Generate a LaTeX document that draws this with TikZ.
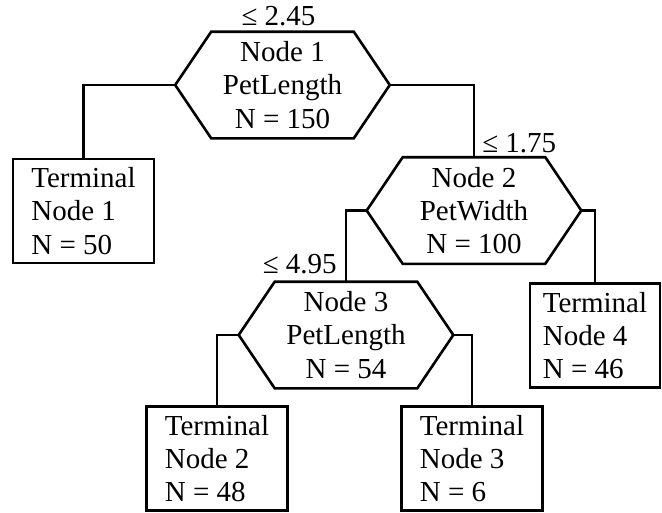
\documentclass[tikz,border=0pt]{standalone}
\usepackage{fontspec}
\setmainfont{Liberation Serif}
\usetikzlibrary{arrows.meta, positioning}

\begin{document}
\begin{tikzpicture}[x=1pt, y=-1pt, line width=2.6pt,
  every node/.style={font=\fontsize{29}{33.3}\selectfont},
  split/.style={minimum width=140pt, minimum height=104pt, inner sep=0pt, align=center,
    execute at begin node={\rule{0pt}{28.5pt}}},
  term/.style={draw, minimum width=141pt, minimum height=104pt, inner sep=0pt, align=left},
  cut/.style={inner sep=0pt}]
\useasboundingbox (0,0) rectangle (662,512);
% splitting nodes: text first, the hexagon is drawn round it
\node[split] (n1) at (282.5,85) {Node 1\\PetLength\\N = 150};
\node[split] (n2) at (474,210.5) {Node 2\\PetWidth\\N = 100};
\node[split] (n3) at (346,335) {Node 3\\PetLength\\N = 54};
\foreach \n in {n1,n2,n3} {
    \coordinate (\n-w) at ([xshift=-36pt]\n.west);
    \coordinate (\n-e) at ([xshift=36pt]\n.east);
    \draw (\n.north west) -- (\n.north east) -- (\n-e) -- (\n.south east) -- (\n.south west) -- (\n-w) -- cycle;
}
% terminal nodes
\node[term] (t1) at (83.5,211) {Terminal\\Node 1\\N = 50};
\node[term] (t2) at (217,458.5) {Terminal\\Node 2\\N = 48};
\node[term] (t3) at (472,458.5) {Terminal\\Node 3\\N = 6};
\node[term, minimum width=130pt] (t4) at (595,335.5) {Terminal\\Node 4\\N = 46};
% branches
\draw (n1-w) -| (t1.north);
\draw (n1-e) -| (n2.north);
\draw (n2-w) -| (n3.north);
\draw (n2-e) -| (t4.north);
\draw (n3-w) -| (t2.north);
\draw (n3-e) -| (t3.north);
% split values
\node[cut, anchor=base] (c1) at ([xshift=-4pt, yshift=6pt]n1.north) {≤ 2.45};
\node[cut, anchor=base west] (c2) at ([xshift=7pt, yshift=5pt]n2.north) {≤ 1.75};
\node[cut, anchor=base east] (c3) at ([xshift=-8pt, yshift=8pt]n3.north) {≤ 4.95};
\end{tikzpicture}
\end{document}
